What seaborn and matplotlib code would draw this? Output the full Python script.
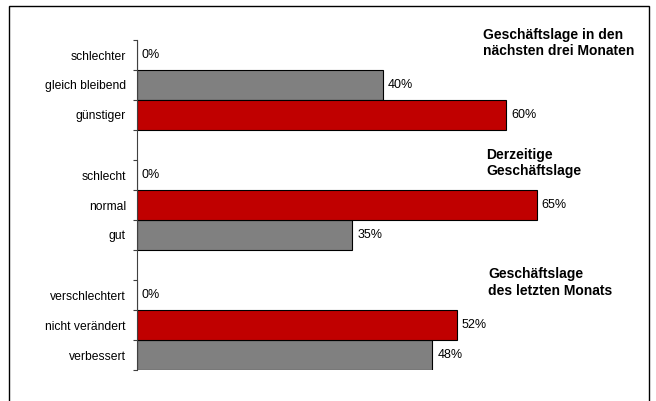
import matplotlib
matplotlib.use("Agg")
import matplotlib.pyplot as plt
from matplotlib.patches import Rectangle
import pandas as pd
import seaborn as sns

# Antwortkategorien, Anteile (%) und Balkenfarbe je Frageblock
antworten_zukunft = ["schlechter", "gleich bleibend", "günstiger"]
werte_zukunft = [0, 40, 60]
farben_zukunft = ["grau", "grau", "rot"]

antworten_derzeit = ["schlecht", "normal", "gut"]
werte_derzeit = [0, 65, 35]
farben_derzeit = ["grau", "rot", "grau"]

antworten_vormonat = ["verschlechtert", "nicht verändert", "verbessert"]
werte_vormonat = [0, 52, 48]
farben_vormonat = ["grau", "rot", "grau"]

titel_zukunft = ["Geschäftslage in den", "nächsten drei Monaten"]
titel_derzeit = ["Derzeitige", "Geschäftslage"]
titel_vormonat = ["Geschäftslage", "des letzten Monats"]

palette = {"rot": "#C00000", "grau": "#808080"}

bloecke = [
    (antworten_zukunft, werte_zukunft, farben_zukunft),
    (antworten_derzeit, werte_derzeit, farben_derzeit),
    (antworten_vormonat, werte_vormonat, farben_vormonat),
]

# Jeder Block belegt drei Zeilen, dazwischen bleibt eine Leerzeile
zeilen = []
for b, (antw, werte, farben) in enumerate(bloecke):
    for i, (a, w, f) in enumerate(zip(antw, werte, farben)):
        zeilen.append({"pos": 4 * b + i, "antwort": a, "wert": w, "farbe": f})
df = pd.DataFrame(zeilen)

sns.set_style("white")
plt.rcParams["font.family"] = ["Liberation Sans", "DejaVu Sans"]
plt.rcParams["text.color"] = "black"
plt.rcParams["ytick.labelcolor"] = "black"
plt.rcParams["ytick.color"] = "#404040"

W, H = 656, 401
fig = plt.figure(figsize=(W / 100, H / 100), dpi=100)
ax = fig.add_axes([137 / W, 31 / H, 492 / W, 330 / H])

sns.barplot(
    data=df, x="wert", y="pos", hue="farbe", palette=palette, saturation=1,
    orient="h", native_scale=True, width=1.0, dodge=False,
    edgecolor="black", linewidth=0.8, legend=False, ax=ax,
)

ax.set_xlim(0, 80)
ax.set_ylim(10.5, -0.5)
ax.set_xlabel("")
ax.set_ylabel("")
ax.set_xticks([])

# Teilstriche an den Zeilengrenzen, Beschriftung in der Zeilenmitte
ax.set_yticks([k - 0.5 for k in range(12)])
ax.set_yticklabels([])
ax.tick_params(axis="y", which="major", length=3, width=0.8,
               direction="out", color="#404040", left=True)
ax.set_yticks(df["pos"].tolist(), minor=True)
ax.set_yticklabels(df["antwort"].tolist(), minor=True, fontsize=8.7,
                   color="black")
ax.tick_params(axis="y", which="minor", length=0, pad=8)

for s in ["top", "right", "bottom"]:
    ax.spines[s].set_visible(False)
ax.spines["left"].set_color("#404040")
ax.spines["left"].set_linewidth(0.8)

for _, r in df.iterrows():
    ax.annotate(f"{r['wert']}%", xy=(r["wert"], r["pos"]), xytext=(5, 0),
                textcoords="offset pixels", ha="left", va="center",
                fontsize=9, color="black")

# Blocküberschriften rechts neben den Balken
for titel, x, y1, y2 in [
    (titel_zukunft, 483, 39, 55),
    (titel_derzeit, 486, 159, 175),
    (titel_vormonat, 488, 278, 295),
]:
    fig.text(x / W, 1 - y1 / H, titel[0], fontsize=10, fontweight="bold",
             ha="left", va="baseline", color="black")
    fig.text(x / W, 1 - y2 / H, titel[1], fontsize=10, fontweight="bold",
             ha="left", va="baseline", color="black")

# Rahmen um die Grafik
fig.patches.append(Rectangle((9 / W, -0.05), 640 / W, (H - 6) / H + 0.05,
                             transform=fig.transFigure, fill=False,
                             edgecolor="black", linewidth=1, clip_on=False))

fig.savefig("out.png", dpi=100)
